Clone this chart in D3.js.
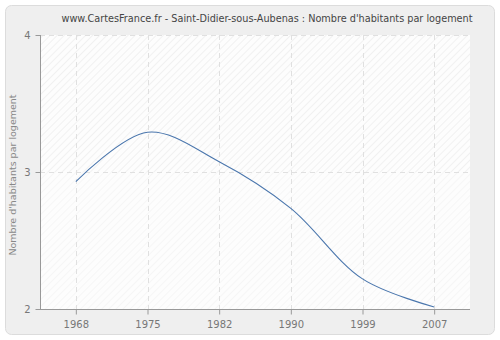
<!DOCTYPE html>
<html><head><meta charset="utf-8">
<script src="https://cdn.jsdelivr.net/npm/d3@7/dist/d3.min.js"></script>
<style>body{margin:0;background:#fff}svg{display:block}</style>
</head><body>
<svg id="c" width="500" height="340"></svg>
<script>
const title = "www.CartesFrance.fr - Saint-Didier-sous-Aubenas : Nombre d'habitants par logement";
const yLabel = "Nombre d'habitants par logement";
const years = ["1968", "1975", "1982", "1990", "1999", "2007"];
const values = [2.93, 3.29, 3.075, 2.735, 2.22, 2.015];
const yTicks = [2, 3, 4];

const svg = d3.select("#c");
const m = {l: 40, r: 470, t: 35, b: 309};
const font = "DejaVu Sans, Verdana, sans-serif";

svg.append("rect").attr("x", 5.5).attr("y", 5.5).attr("width", 489).attr("height", 329)
  .attr("rx", 6).attr("fill", "#efefef").attr("stroke", "#dcdcdc");

const defs = svg.append("defs");
function hatch(id, color) {
  const p = defs.append("pattern").attr("id", id).attr("patternUnits", "userSpaceOnUse")
    .attr("width", 5).attr("height", 5).attr("patternTransform", "rotate(45)");
  p.append("rect").attr("width", 5).attr("height", 5).attr("fill", "#fdfdfd");
  p.append("line").attr("x1", 0).attr("y1", 0).attr("x2", 0).attr("y2", 5)
    .attr("stroke", color).attr("stroke-width", 1);
}
hatch("h1", "#e6e6e6");
hatch("h2", "#f0f0f0");

const x = d3.scalePoint().domain(years).range([m.l, m.r]).padding(0.5);
const y = d3.scaleLinear().domain([2, 4]).range([m.b, m.t]);

svg.append("rect").attr("x", m.l).attr("y", y(4)).attr("width", m.r - m.l).attr("height", y(3) - y(4))
  .attr("fill", "url(#h1)");
svg.append("rect").attr("x", m.l).attr("y", y(3)).attr("width", m.r - m.l).attr("height", y(2) - y(3))
  .attr("fill", "url(#h2)");

const grid = svg.append("g").attr("stroke", "#e0e0e0").attr("stroke-dasharray", "5,4");
grid.selectAll("line.v").data(years).join("line")
  .attr("x1", d => Math.round(x(d)) + 0.5).attr("x2", d => Math.round(x(d)) + 0.5)
  .attr("y1", m.t).attr("y2", m.b);
grid.selectAll("line.h").data(yTicks.slice(1)).join("line")
  .attr("x1", m.l).attr("x2", m.r)
  .attr("y1", d => Math.round(y(d)) + 0.5).attr("y2", d => Math.round(y(d)) + 0.5);

const line = d3.line().x((d, i) => x(years[i])).y(d => y(d)).curve(d3.curveCatmullRom.alpha(0.5));
svg.append("path").datum(values).attr("d", line).attr("fill", "none")
  .attr("stroke", "#4a76ad").attr("stroke-width", 1.1);

const xAxis = svg.append("g").attr("transform", `translate(0,${m.b + 0.5})`)
  .call(d3.axisBottom(x).tickSize(5).tickPadding(6));
const yAxis = svg.append("g").attr("transform", `translate(${m.l + 0.5},0)`)
  .call(d3.axisLeft(y).tickValues(yTicks).tickFormat(d3.format("d")).tickSize(5).tickPadding(5));
[xAxis, yAxis].forEach(a => {
  a.select(".domain").attr("stroke", "#999");
  a.selectAll(".tick line").attr("stroke", "#999");
  a.selectAll("text").attr("fill", "#777").attr("font-family", font).attr("font-size", 10);
});
xAxis.select(".domain").attr("d", `M${m.l},0H${m.r}`);
yAxis.select(".domain").attr("d", `M0,${m.t}V${m.b}`);

svg.append("text").attr("x", 267).attr("y", 22).attr("text-anchor", "middle")
  .attr("font-family", font).attr("font-size", 10).attr("fill", "#444")
  .attr("textLength", 411).attr("lengthAdjust", "spacingAndGlyphs")
  .text(title);
svg.append("text").attr("transform", `translate(16,${(m.t + m.b) / 2 + 3}) rotate(-90)`)
  .attr("text-anchor", "middle").attr("font-family", font)
  .attr("font-size", 9.5).attr("fill", "#888").text(yLabel);
</script>
</body></html>
